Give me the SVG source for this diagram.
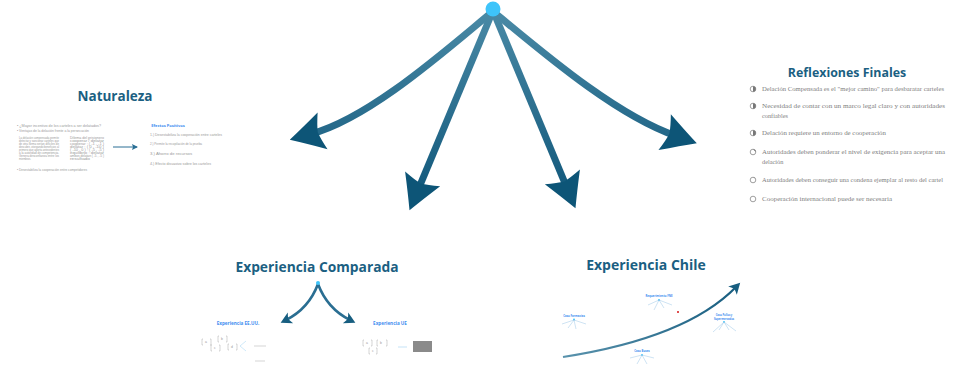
<svg xmlns="http://www.w3.org/2000/svg" width="968" height="370" viewBox="0 0 968 370">
<defs>
<linearGradient id="g" gradientUnits="userSpaceOnUse" x1="0" y1="10" x2="0" y2="210">
<stop offset="0" stop-color="#4a8aa6"/>
<stop offset="1" stop-color="#0d5478"/>
</linearGradient>
<linearGradient id="gc" gradientUnits="userSpaceOnUse" x1="563" y1="0" x2="745" y2="0">
<stop offset="0" stop-color="#5a93ad"/>
<stop offset="1" stop-color="#155b7e"/>
</linearGradient>
<marker id="big" markerUnits="userSpaceOnUse" markerWidth="40" markerHeight="44" viewBox="-38 -22 40 44" refX="-22" refY="0" orient="auto">
<path d="M0,0 Q-15,-8 -34,-19 Q-30,-7 -29,0 Q-30,7 -34,19 Q-15,8 0,0 Z" fill="#0d5577"/>
</marker>
<marker id="small" markerUnits="userSpaceOnUse" markerWidth="14" markerHeight="14" viewBox="-12 -7 14 14" refX="-6" refY="0" orient="auto">
<path d="M0,0 L-11,-6 Q-9,-2 -8.5,0 Q-9,2 -11,6 Z" fill="#175e80"/>
</marker>
<marker id="tiny" markerUnits="userSpaceOnUse" markerWidth="8" markerHeight="8" viewBox="-6 -4 8 8" refX="0" refY="0" orient="auto">
<path d="M1,0 L-5,-3 L-4,0 L-5,3 Z" fill="#2a6f95"/>
</marker>
</defs>
<style>
.title{font-family:"Open Sans","Liberation Sans",sans-serif;font-weight:bold;fill:#1b5f82}
.body{font-family:"Liberation Serif",serif;font-size:6.3px;fill:#808080}
.tiny{font-family:"Liberation Sans",sans-serif;font-size:3.4px;fill:#9a9a9a}
.blue{font-family:"Open Sans","Liberation Sans",sans-serif;font-weight:bold;fill:#3f8ef0}
.conn{fill:none;stroke:url(#g);stroke-width:7}
.bul{fill:#fff;stroke:#888;stroke-width:0.8}
.bulf{fill:#777}
.mini{stroke:#9cc7e6;stroke-width:0.5;fill:none}
</style>
<rect width="968" height="370" fill="#ffffff"/>

<g id="connectors">
<path class="conn" d="M491,13 C446,50 370,118 311,134" marker-end="url(#big)"/>
<path class="conn" d="M492,13 L418,190" marker-end="url(#big)"/>
<path class="conn" d="M494,13 L567,188" marker-end="url(#big)"/>
<path class="conn" d="M495,13 C540,50 615,115 676,136" marker-end="url(#big)"/>
</g>

<g id="hub">
<circle cx="493" cy="9" r="7.5" fill="#3ec4fa"/>
</g>

<g id="naturaleza">
<text class="title" x="115" y="101" font-size="13.5" text-anchor="middle">Naturaleza</text>
<text class="tiny" x="17" y="127" textLength="84" lengthAdjust="spacingAndGlyphs">• ¿Mayor incentivo de los carteles a ser delatados?</text>
<text class="tiny" x="17" y="132" textLength="72" lengthAdjust="spacingAndGlyphs">• Ventajas de la delación frente a la persecución</text>
<g class="tiny">
<text x="19" y="139" textLength="40" lengthAdjust="spacingAndGlyphs">La delación compensada permite</text>
<text x="19" y="142" textLength="40" lengthAdjust="spacingAndGlyphs">detectar y sancionar carteles que</text>
<text x="19" y="145" textLength="40" lengthAdjust="spacingAndGlyphs">de otra forma serían difíciles de</text>
<text x="19" y="148" textLength="40" lengthAdjust="spacingAndGlyphs">descubrir, otorgando beneficios al</text>
<text x="19" y="151" textLength="40" lengthAdjust="spacingAndGlyphs">primero que aporta antecedentes</text>
<text x="19" y="154" textLength="40" lengthAdjust="spacingAndGlyphs">a la autoridad de competencia.</text>
<text x="19" y="157" textLength="40" lengthAdjust="spacingAndGlyphs">Genera desconfianza entre los</text>
<text x="19" y="160" textLength="12" lengthAdjust="spacingAndGlyphs">miembros.</text>
<text x="70" y="139" textLength="34" lengthAdjust="spacingAndGlyphs">Dilema del prisionero</text>
<text x="70" y="142" textLength="34" lengthAdjust="spacingAndGlyphs">cooperar / delatar</text>
<text x="70" y="145" textLength="34" lengthAdjust="spacingAndGlyphs">cooperar : ( -1 , -1 )</text>
<text x="70" y="148" textLength="34" lengthAdjust="spacingAndGlyphs">delatar : ( 0 , -10 )</text>
<text x="70" y="151" textLength="34" lengthAdjust="spacingAndGlyphs">( -10 , 0 ) : ( -5 , -5 )</text>
<text x="70" y="154" textLength="34" lengthAdjust="spacingAndGlyphs">equilibrio : delatar</text>
<text x="70" y="157" textLength="34" lengthAdjust="spacingAndGlyphs">ambos delatan ( -5 , -5 )</text>
<text x="70" y="160" textLength="20" lengthAdjust="spacingAndGlyphs">resultado</text>
</g>
<text class="tiny" x="17" y="171" textLength="70" lengthAdjust="spacingAndGlyphs">• Desestabiliza la cooperación entre competidores</text>
<path d="M113,147 L137,147" stroke="#2a6f95" stroke-width="1" marker-end="url(#tiny)"/>
<text class="blue" x="168" y="127" font-size="4" text-anchor="middle">Efectos Positivos</text>
<text class="tiny" x="150" y="136" textLength="72" lengthAdjust="spacingAndGlyphs">1.) Desestabiliza la cooperación entre carteles</text>
<text class="tiny" x="150" y="145" textLength="52" lengthAdjust="spacingAndGlyphs">2.) Permite la recopilación de la prueba</text>
<text class="tiny" x="150" y="155" textLength="42" lengthAdjust="spacingAndGlyphs">3.) Ahorro de recursos</text>
<text class="tiny" x="150" y="165" textLength="61" lengthAdjust="spacingAndGlyphs">4.) Efecto disuasivo sobre los carteles</text>
</g>

<g id="reflexiones">
<text class="title" x="847" y="77" font-size="12.4" text-anchor="middle">Reflexiones Finales</text>
<g>
<circle class="bul" cx="753" cy="89" r="2.8"/><path class="bulf" d="M753,86.2 A2.8,2.8 0 0 1 753,91.8 Z"/>
<circle class="bul" cx="753" cy="106" r="2.8"/><path class="bulf" d="M753,103.2 A2.8,2.8 0 0 1 753,108.8 Z"/>
<circle class="bul" cx="753" cy="133" r="2.8"/><path class="bulf" d="M753,130.2 A2.8,2.8 0 0 1 753,135.8 Z"/>
<circle class="bul" cx="753" cy="152" r="2.8"/><path class="bulf" d="M753,149.2 A2.8,2.8 0 0 1 755.8,152 Z"/>
<circle class="bul" cx="753" cy="180" r="2.8"/><path class="bulf" d="M753,177.2 A2.8,2.8 0 0 1 755.4,178.6 Z"/>
<circle class="bul" cx="753" cy="199" r="2.8"/><path class="bulf" d="M753,196.2 A2.8,2.8 0 0 1 754.2,196.5 Z"/>
</g>
<text class="body" x="762" y="91" textLength="182" lengthAdjust="spacingAndGlyphs">Delación Compensada es el "mejor camino" para desbaratar carteles</text>
<text class="body" x="762" y="108" textLength="183" lengthAdjust="spacingAndGlyphs">Necesidad de contar con un marco legal claro y con autoridades</text>
<text class="body" x="762" y="118">confiables</text>
<text class="body" x="762" y="135" textLength="124" lengthAdjust="spacingAndGlyphs">Delación requiere un entorno de cooperación</text>
<text class="body" x="762" y="154" textLength="183" lengthAdjust="spacingAndGlyphs">Autoridades deben ponderar el nivel de exigencia para aceptar una</text>
<text class="body" x="762" y="164">delación</text>
<text class="body" x="762" y="182" textLength="181" lengthAdjust="spacingAndGlyphs">Autoridades deben conseguir una condena ejemplar al resto del cartel</text>
<text class="body" x="762" y="201" textLength="130" lengthAdjust="spacingAndGlyphs">Cooperación internacional puede ser necesaria</text>
</g>

<g id="experiencia-comparada">
<text class="title" x="317" y="272" font-size="13.8" text-anchor="middle">Experiencia Comparada</text>
<path d="M318,284 C312,300 300,313 286,320" fill="none" stroke="#2a6e92" stroke-width="2.6" marker-end="url(#small)"/>
<path d="M318,284 C324,300 336,313 350,320" fill="none" stroke="#2a6e92" stroke-width="2.6" marker-end="url(#small)"/>
<circle cx="318" cy="283" r="2" fill="#3ec4fa"/>
<text class="blue" x="238" y="325" font-size="4.6" text-anchor="middle">Experiencia EE.UU.</text>
<text class="blue" x="390" y="325" font-size="4.6" text-anchor="middle">Experiencia UE</text>
<g stroke="#aaa" stroke-width="0.5" fill="none">
<path d="M203,339 h-1 v6 h1 M210,339 h1 v6 h-1"/>
<path d="M219,336 h-1 v6 h1 M226,336 h1 v6 h-1"/>
<path d="M212,345 h-1 v6 h1 M219,345 h1 v6 h-1"/>
<path d="M229,344 h-1 v6 h1 M236,344 h1 v6 h-1"/>
<path d="M240,346 L246,341 M240,346 L246,351" stroke="#9fd2f2"/>
<path d="M254,346 h12 M255,361 h10"/>
<path d="M364,340 h-1 v6 h1 M371,340 h1 v6 h-1"/>
<path d="M378,340 h-1 v6 h1 M386,340 h1 v6 h-1"/>
<path d="M370,348 h-1 v6 h1 M376,348 h1 v6 h-1"/>
</g>
<g class="tiny" font-size="2.5">
<text x="205" y="343">a</text><text x="221" y="340">b</text><text x="214" y="349">c</text><text x="231" y="348">d</text>
<text x="366" y="344">a</text><text x="380" y="344">b</text><text x="372" y="352">c</text>
</g>
<path d="M398,347 h9" stroke="#9fd2f2" stroke-width="0.6"/>
<rect x="413" y="341" width="19" height="11" fill="#8a8a8a"/>
</g>

<g id="experiencia-chile">
<text class="title" x="646" y="270" font-size="14" text-anchor="middle">Experiencia Chile</text>
<path d="M563,357 C640,345 700,324 736,287" fill="none" stroke="url(#gc)" stroke-width="2.2" marker-end="url(#small)"/>
<g id="chile-1">
<text class="blue" x="574" y="317" font-size="2.8" text-anchor="middle">Caso Farmacias</text>
<circle cx="574" cy="319.5" r="1" fill="#3ec4fa"/>
<path class="mini" d="M574,320 L562,324 M574,320 L568,328 M574,320 L576,329 M574,320 L586,324"/>
</g>
<g id="chile-2">
<text class="blue" x="659" y="297" font-size="2.8" text-anchor="middle">Requerimiento FNE</text>
<circle cx="659" cy="300" r="1" fill="#3ec4fa"/>
<path class="mini" d="M659,300 L648,305 M659,300 L654,310 M659,300 L664,308 M659,300 L672,305"/>
<rect x="677" y="311" width="2" height="2" fill="#e05050"/>
</g>
<g id="chile-3">
<text class="blue" x="642" y="352" font-size="2.8" text-anchor="middle">Caso Buses</text>
<circle cx="642" cy="355" r="1" fill="#3ec4fa"/>
<path class="mini" d="M642,355 L630,358 M642,355 L637,364 M642,355 L647,364 M642,355 L654,358"/>
</g>
<g id="chile-4">
<text class="blue" x="724" y="316" font-size="2.6" text-anchor="middle">Caso Pollos y</text>
<text class="blue" x="724" y="319.5" font-size="2.6" text-anchor="middle">Supermercados</text>
<circle cx="724" cy="322" r="1" fill="#3ec4fa"/>
<path class="mini" d="M724,322 L713,332 M724,322 L719,330 M724,322 L729,330 M724,322 L736,331"/>
</g>
</g>
</svg>
